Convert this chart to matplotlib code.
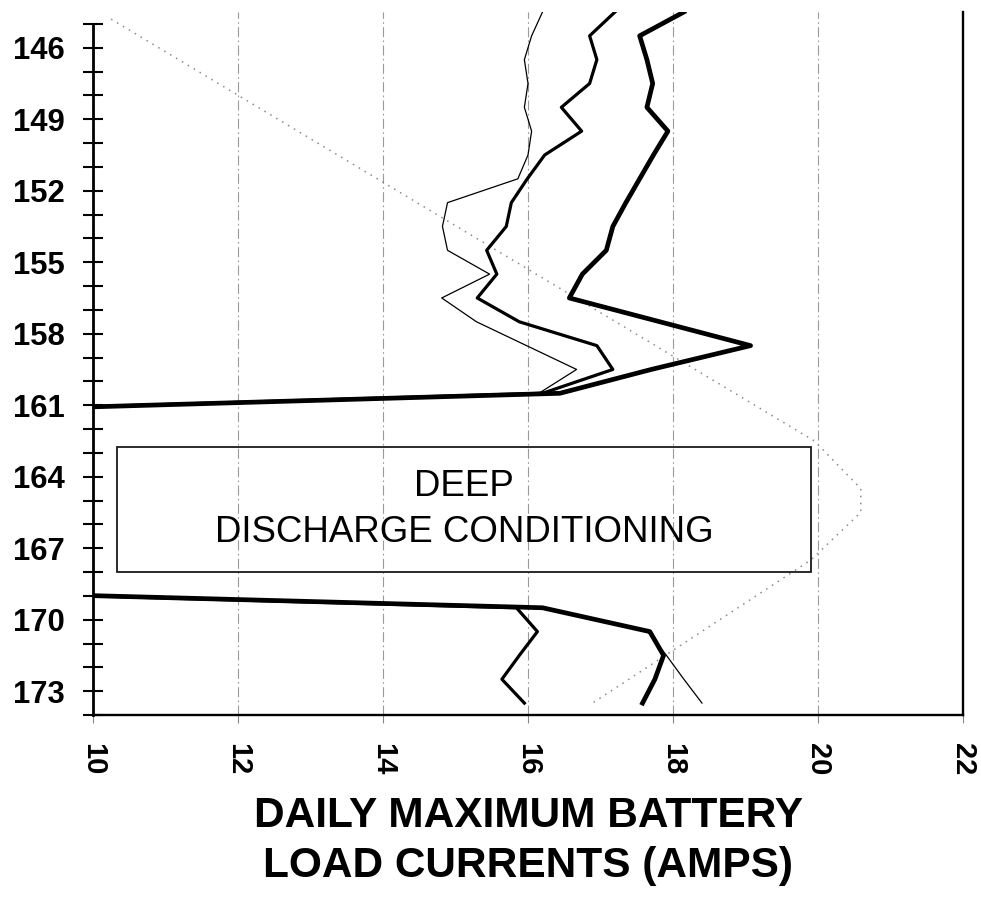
import numpy as np
import matplotlib
matplotlib.use("Agg")
import matplotlib.pyplot as plt
from matplotlib.patches import Rectangle

# ---------------- data ----------------
# day positions of the plotted points (points sit midway between day ticks)
days = np.arange(144.5, 174.0, 1.0)
nan = np.nan

# thick series (daily maximum load current, amps)
thick_vals = [18.15, 17.54, 17.64, 17.72, 17.64, 17.93, 17.73, 17.54, 17.35, 17.17,
              17.08, 16.75, 16.57, 17.82, 19.07, 17.70, 16.44, 5.1,
              nan, nan, nan, nan, nan, nan,
              4.0, 16.20, 17.68, 17.87, 17.75, 17.58]
# medium series
medium_vals = [17.20, 16.85, 16.95, 16.85, 16.46, 16.74, 16.23, 15.99, 15.77, 15.70,
               15.43, 15.57, 15.30, 15.88, 16.95, 17.17, 16.20, 5.1,
               nan, nan, nan, nan, nan, nan,
               4.0, 15.84, 16.13, 15.88, 15.64, 15.95]
# thin series
thin_vals = [16.20, 16.05, 15.95, 16.00, 15.95, 16.05, 16.00, 15.86, 14.89, 14.82,
             14.89, 15.47, 14.81, 15.29, 15.98, 16.67, 16.15, 5.1,
             nan, nan, nan, nan, nan, nan,
             4.0, 16.20, 17.65, 17.91, 18.15, 18.40]
# dotted series (vertices)
dotted_days = [144.8, 162.5, 164.5, 165.5, 167.5, 173.5]
dotted_vals = [10.25, 19.95, 20.59, 20.59, 19.90, 16.89]

# deep discharge conditioning period box (days, amps)
box_days = (162.75, 168.0)
box_amps = (10.33, 19.90)
box_text = "DEEP\nDISCHARGE CONDITIONING"

x_ticks = [10, 12, 14, 16, 18, 20, 22]
x_grid = [12, 14, 16, 18, 20]
y_label_days = [146, 149, 152, 155, 158, 161, 164, 167, 170, 173]
y_minor_days = list(range(145, 175))
x_label = "DAILY MAXIMUM BATTERY\nLOAD CURRENTS (AMPS)"

# ---------------- figure ----------------
W, H = 981, 898
fig = plt.figure(figsize=(W / 100, H / 100), dpi=100)
ax = fig.add_axes([93 / W, (H - 715) / H, (963 - 93) / W, (715 - 12) / H])
ax.set_xlim(10, 22)
ax.set_ylim(174, 144.5)

FONT = "Liberation Sans"

# grid
for g in x_grid:
    ax.axvline(g, color="#9a9a9a", lw=0.8, ls=(0, (9, 3, 1.5, 3)), zorder=1)

# series (x = current, y = day)
ax.plot(dotted_vals, dotted_days, color="#8a8a8a", lw=1.1, ls=(0, (1, 3.5)), zorder=2)
ax.plot(thin_vals, days, color="black", lw=0.9, zorder=3)
ax.plot(medium_vals, days, color="black", lw=2.3, zorder=4)
ax.plot(thick_vals, days, color="black", lw=3.4, zorder=5)

# box annotation
ax.add_patch(Rectangle((box_amps[0], box_days[0]), box_amps[1] - box_amps[0],
                       box_days[1] - box_days[0], fill=False, lw=1.3,
                       ec="#1a1a1a", zorder=6))
ax.text((box_amps[0] + box_amps[1]) / 2, 165.36, box_text, ha="center", va="center",
        fontsize=26.4, family=FONT, linespacing=1.4, multialignment="center",
        zorder=7)

# spines
ax.spines["top"].set_visible(False)
for s in ("left", "bottom", "right"):
    ax.spines[s].set_linewidth(1.7)
    ax.spines[s].set_color("black")
ax.spines["left"].set_linewidth(2.0)
ax.spines["left"].set_bounds(145, 174)

# ticks
ax.set_xticks(x_ticks)
ax.set_xticklabels([str(t) for t in x_ticks], rotation=-90, fontsize=21,
                   fontweight="bold", family=FONT)
ax.tick_params(axis="x", length=6, width=0.8, color="#888888", pad=14)

ax.set_yticks(y_label_days)
ax.set_yticklabels([str(d) for d in y_label_days], fontsize=22.3,
                   fontweight="bold", family=FONT)
ax.set_yticks(y_minor_days, minor=True)
ax.tick_params(axis="y", which="both", direction="inout", length=14.4,
               width=1.5, pad=13)
ax.tick_params(axis="y", which="both", right=False)

fig.text(528 / W, 1 - 841 / H, x_label, ha="center", va="center", fontsize=30.5,
         fontweight="bold", family=FONT, linespacing=1.33, multialignment="center")

fig.savefig("out.png", dpi=100)
